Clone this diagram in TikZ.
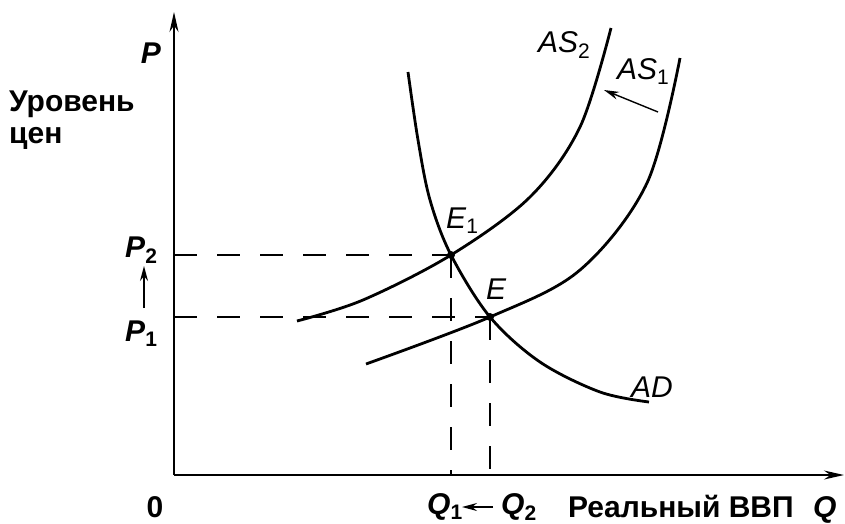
\documentclass[tikz,border=0pt]{standalone}
\usepackage{fontspec}
\setmainfont{Liberation Sans}
\usetikzlibrary{arrows.meta}
\begin{document}
\begin{tikzpicture}[x=1pt,y=-1pt,
  axis/.style={line width=1.6pt,-{Stealth[length=20pt,width=9pt]}},
  curve/.style={line width=2.8pt},
  guide/.style={line width=1.2pt,dash pattern=on 23pt off 20pt},
  shiftarrow/.style={line width=1.4pt,-{Stealth[length=15pt,width=8pt]}},
  lbl/.style={inner sep=0pt,font=\fontsize{30}{34}\selectfont},
  dot/.style={circle,fill=black,inner sep=0pt,minimum size=8pt}]
\useasboundingbox (0,0) rectangle (845,523);
% coordinates
\coordinate (O) at (174,475);
\coordinate (Ytop) at (174,12);
\coordinate (Xend) at (844,475);
\coordinate (E1) at (451,255);
\coordinate (E) at (490,317);
\coordinate (P2a) at (174,255);
\coordinate (P1a) at (174,317);
\coordinate (Q1a) at (451,475);
\coordinate (Q2a) at (490,475);
% axes
\draw[axis] (O) -- (Ytop);
\draw[axis] (O) -- (Xend);
% guides
\draw[guide] (P2a) -- (E1);
\draw[guide] (P1a) -- (E);
\draw[guide] (E1) -- (Q1a);
\draw[guide] (E) -- (Q2a);
% curves
\draw[curve] plot[smooth,tension=0.55] coordinates {(408,72) (418,140) (430,200) (451,255) (490,317) (540,362) (600,392) (649,402)};
\draw[curve] plot[smooth,tension=0.55] coordinates {(297,321) (363,300) (451,255) (530,197) (580,127) (611,28)};
\draw[curve] plot[smooth,tension=0.55] coordinates {(366,364) (490,317) (580,270) (647,183) (680,58)};
% points
\node[dot] (dE1) at (E1) {};
\node[dot] (dE) at (E) {};
% shift arrows
\coordinate (asT) at (658,112);
\coordinate (asH) at (604,90);
\draw[shiftarrow] (asT) -- (asH);
\coordinate (pT) at (144,308);
\coordinate (pH) at (144,266);
\draw[shiftarrow] (pT) -- (pH);
\coordinate (qT) at (493,507);
\coordinate (qH) at (462,507);
\draw[shiftarrow] (qT) -- (qH);
% labels
\node[lbl,anchor=base] (Plab) at (151,63) {\textbf{\textit{P}}};
\node[lbl,anchor=base west] (lev1) at (9,111) {\textbf{Уровень}};
\node[lbl,anchor=base west] (lev2) at (9,143) {\textbf{цен}};
\node[lbl,anchor=base west] (P2lab) at (125,257) {\textbf{\textit{P}\textsubscript{2}}};
\node[lbl,anchor=base west] (P1lab) at (125,341) {\textbf{\textit{P}\textsubscript{1}}};
\node[lbl,anchor=base] (zero) at (155,517) {\textbf{0}};
\node[lbl,anchor=base west] (Q1lab) at (427,514) {\textbf{\textit{Q}\textsubscript{1}}};
\node[lbl,anchor=base west] (Q2lab) at (501,514) {\textbf{\textit{Q}\textsubscript{2}}};
\node[lbl,anchor=base west] (xlab) at (568,517) {\textbf{Реальный ВВП}};
\node[lbl,anchor=base west] (Qlab) at (813,517) {\textbf{\textit{Q}}};
\node[lbl,anchor=base west] (AS2lab) at (538,52) {\textit{AS}\textsubscript{2}};
\node[lbl,anchor=base west] (AS1lab) at (617,79) {\textit{AS}\textsubscript{1}};
\node[lbl,anchor=base west] (E1lab) at (446,228) {\textit{E}\textsubscript{1}};
\node[lbl,anchor=base west] (Elab) at (486,299) {\textit{E}};
\node[lbl,anchor=base west] (ADlab) at (631,397) {\textit{AD}};
\end{tikzpicture}
\end{document}
